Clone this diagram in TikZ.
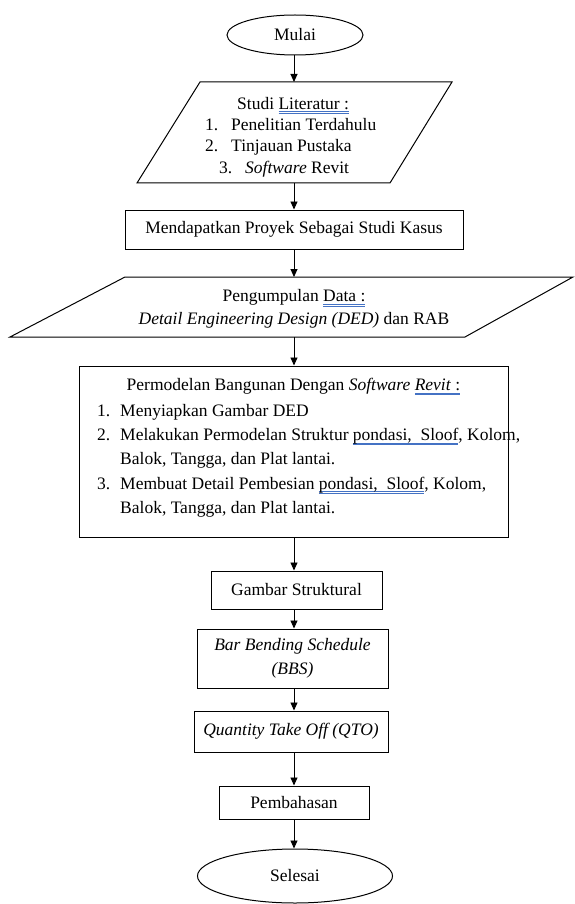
\documentclass[tikz,border=0pt]{standalone}
\usepackage{fontspec}
\setmainfont{Liberation Serif}
\usetikzlibrary{shapes.geometric,arrows.meta,positioning}
\definecolor{spellblue}{RGB}{68,114,196}
% word style spell-check mark (blue double line)
\newsavebox{\spellbox}
\newcommand{\spell}[1]{\sbox{\spellbox}{#1}%
  \rlap{\textcolor{spellblue}{\rule[-2.6pt]{\wd\spellbox}{0.6pt}}}%
  \rlap{\textcolor{spellblue}{\rule[-4.4pt]{\wd\spellbox}{0.6pt}}}%
  \usebox{\spellbox}}
\tikzset{
  box/.style={draw,rectangle,line width=1pt},
  term/.style={draw,ellipse,line width=1pt},
  flow/.style={line width=0.9pt,-{Triangle[length=8pt,width=7pt]}}
}
\begin{document}
\begin{tikzpicture}[x=1pt,y=-1pt,every node/.style={inner sep=0pt,font=\fontsize{17.5}{21}\selectfont}]
    \useasboundingbox (0,0) rectangle (574,904);
    \coordinate (axis) at (294,0);
    \node[term,minimum width=136pt,minimum height=40pt] (mulai) at (295,35) {Mulai};
    % studi literatur
    \draw[line width=1pt] (200,82) -- (452,82) -- (390,183) -- (137,183) -- cycle;
    \coordinate (lit-n) at (294,82);
    \coordinate (lit-s) at (294,183);
    \node[anchor=north west,align=left,font=\fontsize{17.5}{21.3}\selectfont] (lit) at (205,97)
      {\hspace*{32pt}Studi \spell{Literatur :}\\
       \makebox[26pt][l]{1.}Penelitian Terdahulu\\
       \makebox[26pt][l]{2.}Tinjauan Pustaka\\
       \hspace*{14pt}\makebox[26pt][l]{3.}\textit{Software} Revit};
    \node[box,minimum width=338pt,minimum height=39pt] (mend) at (294,229.5) {Mendapatkan Proyek Sebagai Studi Kasus};
    % pengumpulan data
    \draw[line width=1pt] (125,277) -- (573,277) -- (465,337) -- (10,337) -- cycle;
    \coordinate (data-n) at (294,277);
    \coordinate (data-s) at (294,337);
    \node[align=center,font=\fontsize{17.5}{23}\selectfont] (data) at (294,309)
      {Pengumpulan \spell{Data :}\\
       \textit{Detail Engineering Design (DED)} dan RAB};
    % permodelan
    \node[box,minimum width=429pt,minimum height=171pt] (model) at (293.5,451.5) {};
    \node[below=12.5pt of model.north] (modeltitle) {Permodelan Bangunan Dengan \textit{Software} \spell{\textit{Revit} :}};
    \node[anchor=north west,font=\fontsize{17.5}{24.3}\selectfont] (modellist) at (97,399)
      {\begin{tabular}{@{}p{23pt}@{}l@{}}
        1. & Menyiapkan Gambar DED\\
        2. & Melakukan Permodelan Struktur \spell{pondasi,\ \ Sloof}, Kolom,\\
           & Balok, Tangga, dan Plat lantai.\\
        3. & Membuat Detail Pembesian \spell{pondasi,\ \ Sloof}, Kolom,\\
           & Balok, Tangga, dan Plat lantai.
       \end{tabular}};
    \node[box,minimum width=171pt,minimum height=38pt] (gambar) at (296.5,590) {Gambar Struktural};
    \node[box,minimum width=191pt,minimum height=59pt,align=center,font=\fontsize{17.5}{24}\selectfont\itshape] (bbs) at (292.5,658.5)
      {Bar Bending Schedule\\(BBS)};
    \node[box,minimum width=194pt,minimum height=41pt,font=\fontsize{17.5}{21}\selectfont\itshape] (qto) at (291,731.5) {Quantity Take Off (QTO)};
    \node[box,minimum width=150pt,minimum height=33pt] (bahas) at (294,802.5) {Pembahasan};
    \node[term,minimum width=195pt,minimum height=54pt] (selesai) at (295,876) {Selesai};
    % arrows
    \draw[flow] (mulai.south -| axis) -- (lit-n);
    \draw[flow] (lit-s) -- (mend.north -| axis);
    \draw[flow] (mend.south -| axis) -- (data-n);
    \draw[flow] (data-s) -- (model.north -| axis);
    \draw[flow] (model.south -| axis) -- (gambar.north -| axis);
    \draw[flow] (gambar.south -| axis) -- (bbs.north -| axis);
    \draw[flow] (bbs.south -| axis) -- (qto.north -| axis);
    \draw[flow] (qto.south -| axis) -- (bahas.north -| axis);
    \draw[flow] (bahas.south -| axis) -- (selesai.north -| axis);
  \end{tikzpicture}
\end{document}
